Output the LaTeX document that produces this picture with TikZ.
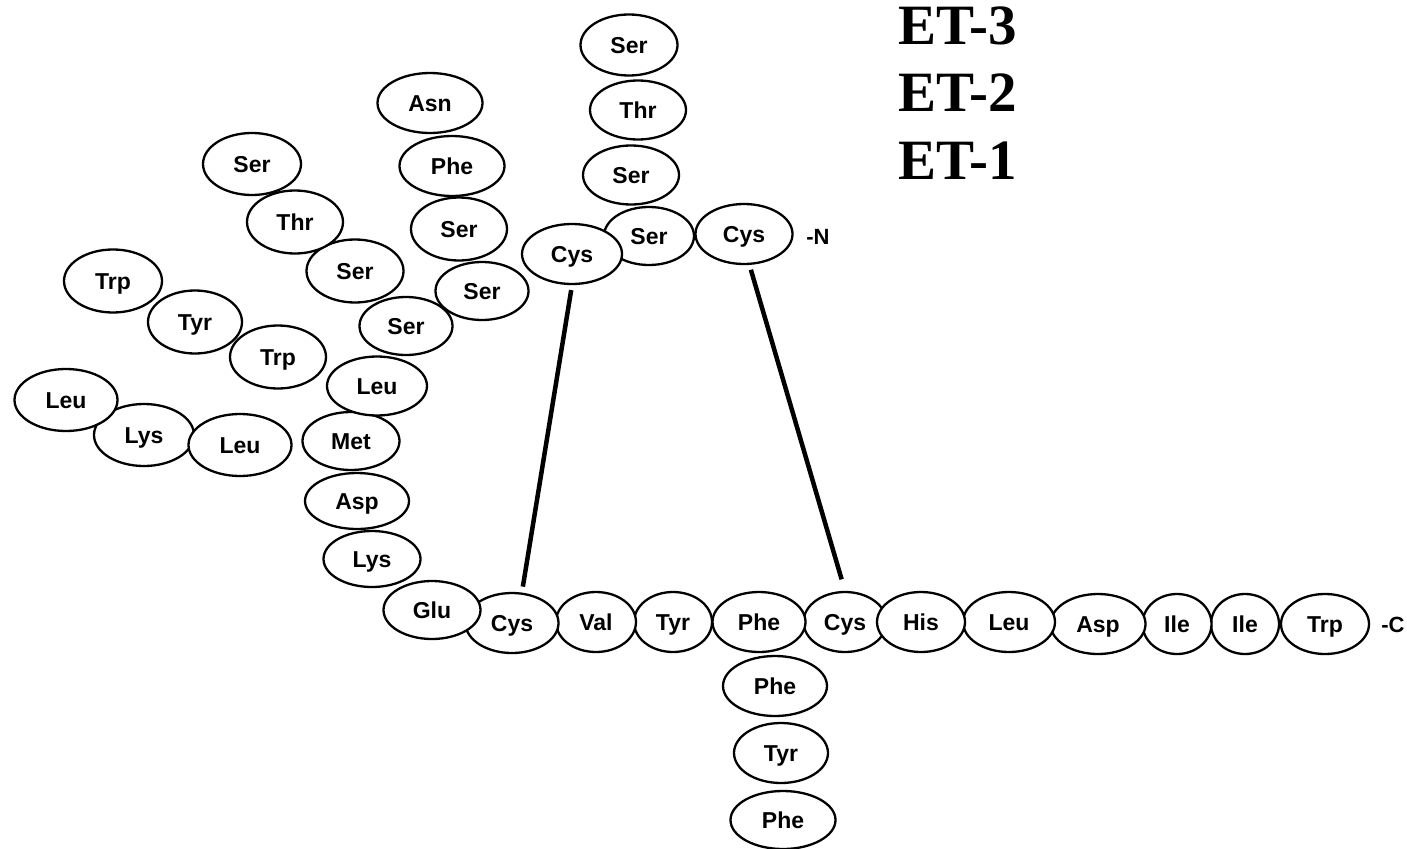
\documentclass[tikz,border=0pt]{standalone}
\usepackage{fontspec}
\newfontfamily\resfont{Liberation Sans}
\newfontfamily\etfont{Liberation Serif}
\usetikzlibrary{shapes.geometric}

\begin{document}
\begin{tikzpicture}[
  x=1pt, y=-1pt,
  res/.style={ellipse, draw, fill=white, line width=2.3pt, inner sep=0pt, minimum width=96pt, minimum height=60pt, text height=17pt, text depth=0pt, font=\resfont\bfseries\fontsize{23}{23}\selectfont},
  term/.style={font=\resfont\bfseries\fontsize{22}{22}\selectfont, text height=16pt, text depth=0pt},
  iso/.style={font=\etfont\bfseries\fontsize{57}{57}\selectfont, anchor=base west, inner sep=0pt},
  bridge/.style={line width=4.5pt, shorten <=5pt, shorten >=6pt}
]
\useasboundingbox (0,0) rectangle (1407,848);

% Isoform labels
\node[iso] (et3) at (898,45) {ET-3};
\node[iso] (et2) at (898,112) {ET-2};
\node[iso] (et1) at (898,179) {ET-1};

% Main chain (drawn right to left)
\node[res, minimum width=83pt] (cysB) at (845,622) {Cys};
\node[res, minimum width=88pt] (trpC) at (1325,624) {Trp};
\node[res, minimum width=68pt] (ileB) at (1245,624) {Ile};
\node[res, minimum width=69pt] (ileA) at (1177,624) {Ile};
\node[res, minimum width=95pt] (aspB) at (1098,624) {Asp};
\node[res, minimum width=92pt] (leuD) at (1009,622) {Leu};
\node[res, minimum width=88pt] (his) at (921,622) {His};
\node[res, minimum width=93pt] (pheB) at (759,622) {Phe};
\node[res, minimum width=78pt] (tyrB) at (673,622) {Tyr};
\node[res, minimum width=80pt] (val) at (596,622) {Val};
\node[res, minimum width=93pt] (cysA) at (512,623) {Cys};
\node[res, minimum width=97pt, minimum height=58pt] (glu) at (432,610) {Glu};
\node[term] (cterm) at (1393,624) {-C};

% Phe column below
\node[res, minimum width=104pt] (pheC) at (775,686) {Phe};
\node[res, minimum width=94pt] (tyrC) at (781,753) {Tyr};
\node[res, minimum width=105pt, minimum height=58pt] (pheD) at (783,820) {Phe};

% Left vertical chain
\node[res, minimum width=97pt, minimum height=56pt] (lysB) at (372,559) {Lys};
\node[res, minimum width=104pt, minimum height=56pt] (aspA) at (357,501) {Asp};
\node[res, minimum width=97pt, minimum height=58pt] (metA) at (351,441) {Met};
\node[res, minimum width=100pt, minimum height=59pt] (leuC) at (377,386) {Leu};

% Branches
\node[res, minimum width=93pt, minimum height=58pt] (serE) at (482,291) {Ser};
\node[res, minimum width=96pt, minimum height=63pt] (serD) at (459,229) {Ser};
\node[res, minimum width=105pt] (pheA) at (452,166) {Phe};
\node[res, minimum width=105pt] (asnA) at (430,103) {Asn};

\node[res, minimum width=93pt, minimum height=58pt] (serC) at (406,326) {Ser};
\node[res, minimum width=97pt, minimum height=63pt] (serB) at (355,271) {Ser};
\node[res, minimum width=96pt, minimum height=63pt] (thrA) at (295,222) {Thr};
\node[res, minimum width=98pt, minimum height=62pt] (serA) at (252,164) {Ser};

\node[res, minimum width=96pt, minimum height=63pt] (trpB) at (278,357) {Trp};
\node[res, minimum width=94pt, minimum height=63pt] (tyrA) at (195,322) {Tyr};
\node[res, minimum width=98pt, minimum height=63pt] (trpA) at (113,281) {Trp};

\node[res, minimum width=100pt, minimum height=62pt] (lysA) at (144,435) {Lys};
\node[res, minimum width=103pt, minimum height=62pt] (leuB) at (240,445) {Leu};
\node[res, minimum width=103pt, minimum height=62pt] (leuA) at (66,400) {Leu};

% Top column and N-terminus
\node[res, minimum width=97pt, minimum height=61pt] (serF) at (629,45) {Ser};
\node[res, minimum width=96pt, minimum height=59pt] (thrB) at (638,110) {Thr};
\node[res, minimum width=96pt, minimum height=59pt] (serG) at (631,175) {Ser};
\node[res, minimum width=90pt, minimum height=58pt] (serH) at (649,236) {Ser};
\node[res, minimum width=97pt] (cysD) at (744,234) {Cys};
\node[res, minimum width=100pt] (cysC) at (572,254) {Cys};
\node[term] (nterm) at (818,236) {-N};

% Disulfide bridges
\draw[bridge] (cysC.south) -- (cysA.72);
\draw[bridge, shorten >=12pt] (cysD.-80) -- (cysB.north);

\end{tikzpicture}
\end{document}
